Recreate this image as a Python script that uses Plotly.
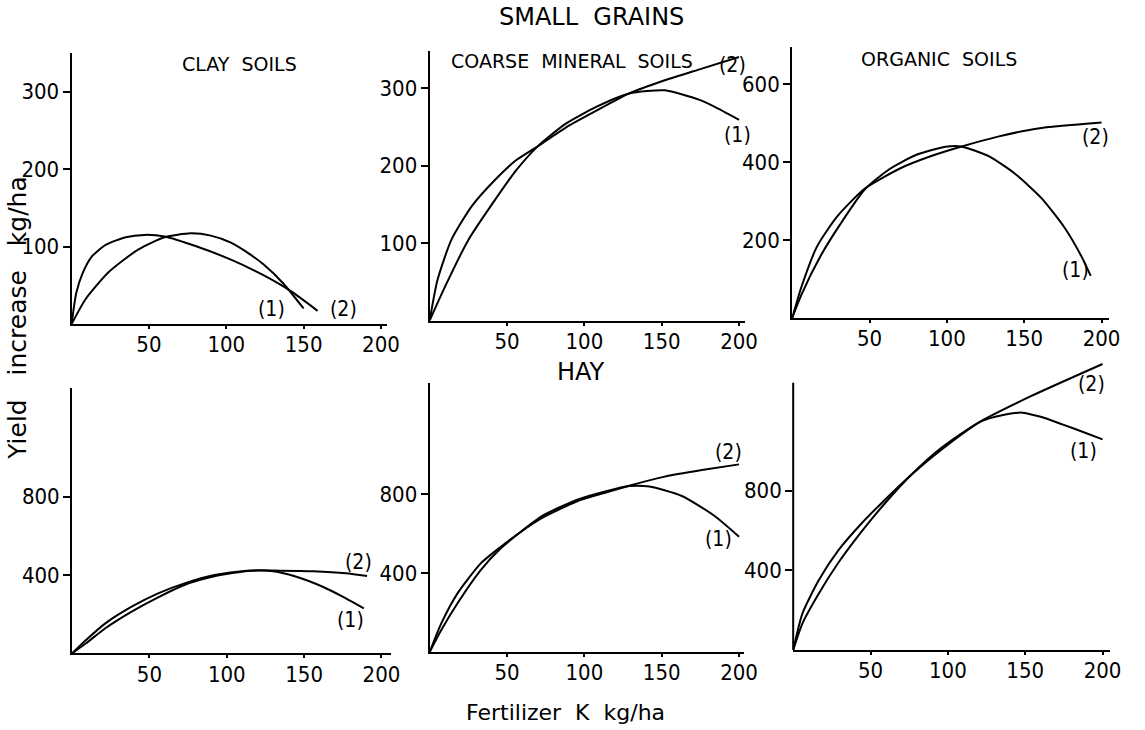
import plotly.graph_objects as go

W, H = 1145, 730

# ---------------- data ----------------
x_tick_vals = [50, 100, 150, 200]
y_ticks_clay_sg = [100, 200, 300]
y_ticks_coarse_sg = [100, 200, 300]
y_ticks_organic_sg = [200, 400, 600]
y_ticks_hay = [400, 800]

# Small grains - clay soils
clay_sg_x1 = [0, 9, 24, 43, 60, 77, 90, 103, 113, 124, 137, 150]
clay_sg_y1 = [0, 32, 67, 96, 112, 117, 114, 105, 93, 77, 52, 20]
clay_sg_x2 = [0, 3, 7, 13, 22, 35, 47, 60, 81, 103, 124, 142, 159]
clay_sg_y2 = [0, 40, 65, 87, 102, 112, 115, 113, 100, 83, 63, 42, 17]

# Small grains - coarse mineral soils
coarse_sg_x1 = [0, 10, 25, 42, 56, 70, 88, 108, 129, 152, 174, 184, 200]
coarse_sg_y1 = [0, 44, 104, 155, 194, 225, 254, 276, 293, 297, 285, 276, 259]
coarse_sg_x2 = [0, 5, 14, 27, 42, 56, 70, 88, 108, 129, 152, 176, 200]
coarse_sg_y2 = [0, 52, 104, 147, 181, 207, 225, 249, 271, 293, 310, 325, 340]

# Small grains - organic soils
organic_sg_x1 = [0, 6, 18.5, 31, 47, 63, 80, 99, 109, 127, 144, 161, 176, 187, 193]
organic_sg_y1 = [0, 60, 160, 240, 330, 382, 418, 439, 440, 415, 370, 308, 232, 158, 108]
organic_sg_x2 = [0, 6, 16, 29, 47, 70, 89, 109, 133, 159, 200]
organic_sg_y2 = [0, 80, 183, 260, 332, 384, 414, 439, 465, 486, 501]

# Hay - clay soils
clay_hay_x1 = [0, 9, 21.5, 38.5, 55.6, 72.6, 92, 115, 130, 145, 162, 177, 188.6]
clay_hay_y1 = [0, 51, 128, 213, 286, 349, 393, 422, 419, 391, 340, 281, 230]
clay_hay_x2 = [0, 9, 21.5, 38.5, 55.6, 72.6, 92, 113, 134, 156, 177, 190.7]
clay_hay_y2 = [0, 68, 153, 238, 306, 357, 400, 422, 422, 419, 409, 395]

# Hay - coarse mineral soils
coarse_hay_x1 = [0, 7.5, 18, 33, 46, 59, 73, 95, 116, 129, 142, 163, 184, 200]
coarse_hay_y1 = [0, 111, 247, 415, 525, 609, 690, 770, 818, 840, 838, 790, 690, 584]
coarse_hay_x2 = [0, 7.5, 18, 33, 46, 59, 73, 95, 116, 129, 152, 176, 200]
coarse_hay_y2 = [0, 145, 297, 449, 533, 609, 680, 762, 812, 842, 888, 921, 950]

# Hay - organic soils
organic_hay_x1 = [0, 6, 16.6, 29.4, 44.3, 59.2, 76.2, 95.4, 121, 135, 148, 160, 174, 187, 200]
organic_hay_y1 = [0, 134, 284, 440, 595, 735, 878, 1012, 1146, 1178, 1191, 1170, 1132, 1095, 1057]
organic_hay_x2 = [0, 6, 16.6, 29.4, 44.3, 59.2, 76.2, 95.4, 121, 153, 200]
organic_hay_y2 = [0, 184, 351, 502, 636, 753, 878, 1003, 1146, 1271, 1435]

# curve label positions (data units): (x1, y1, x2, y2)
label_pos = {
    1: (129, 20, 176, 20),
    2: (199, 239, 196, 330),
    3: (183, 123, 196, 463),
    4: (180, 170, 185, 468),
    5: (187, 572, 193, 1014),
    6: (188, 1000, 193, 1335),
}

panels = {
    1: (clay_sg_x1, clay_sg_y1, clay_sg_x2, clay_sg_y2, y_ticks_clay_sg),
    2: (coarse_sg_x1, coarse_sg_y1, coarse_sg_x2, coarse_sg_y2, y_ticks_coarse_sg),
    3: (organic_sg_x1, organic_sg_y1, organic_sg_x2, organic_sg_y2, y_ticks_organic_sg),
    4: (clay_hay_x1, clay_hay_y1, clay_hay_x2, clay_hay_y2, y_ticks_hay),
    5: (coarse_hay_x1, coarse_hay_y1, coarse_hay_x2, coarse_hay_y2, y_ticks_hay),
    6: (organic_hay_x1, organic_hay_y1, organic_hay_x2, organic_hay_y2, y_ticks_hay),
}

# ---------------- geometry (pixels) ----------------
SX = 1.566  # px per x unit
geom = {
    1: dict(x0=72.5, xmax=204, y0=324.0, sy=0.775, ymax=350, ytop=350),
    2: dict(x0=435.0, xmax=204, y0=320.5, sy=0.775, ymax=348, ytop=348),
    3: dict(x0=802.0, xmax=205, y0=318.0, sy=0.39, ymax=695, ytop=695),
    4: dict(x0=73.0, xmax=206, y0=653.3, sy=0.1958, ymax=1353, ytop=1353),
    5: dict(x0=435.0, xmax=203, y0=652.0, sy=0.1975, ymax=1362, ytop=1362),
    6: dict(x0=803.0, xmax=205, y0=650.0, sy=0.1993, ymax=1450, ytop=1341),
}

TICK_FONT = dict(family="Liberation Sans Narrow, DejaVu Sans Condensed, Arial Narrow, sans-serif",
                 size=22, color="black")
TEXT_FONT = "DejaVu Sans, Verdana, sans-serif"

fig = go.Figure()
layout = dict(
    width=W, height=H, autosize=False, margin=dict(l=0, r=0, t=0, b=0, pad=0),
    paper_bgcolor="white", plot_bgcolor="white", showlegend=False,
)
annotations = []
shapes = []

for i, (x1, y1, x2, y2, yt) in panels.items():
    g = geom[i]
    sfx = "" if i == 1 else str(i)
    xd = [g["x0"] / W, (g["x0"] + g["xmax"] * SX) / W]
    yd = [(H - g["y0"]) / H, (H - (g["y0"] - g["ymax"] * g["sy"])) / H]
    for xs, ys in ((x1, y1), (x2, y2)):
        fig.add_trace(go.Scatter(
            x=xs, y=ys, mode="lines", xaxis="x" + sfx, yaxis="y" + sfx,
            line=dict(color="black", width=2, shape="spline", smoothing=0.6),
            hoverinfo="skip",
        ))
    layout["xaxis" + sfx] = dict(
        domain=xd, range=[0, g["xmax"]], anchor="y" + sfx,
        showgrid=False, zeroline=False, showline=True, linecolor="black", linewidth=2,
        ticks="outside", ticklen=3, tickwidth=1.5, tickcolor="black",
        tickmode="array", tickvals=x_tick_vals, ticktext=[str(v) for v in x_tick_vals],
        tickfont=TICK_FONT, ticklabelstandoff=-3, fixedrange=True,
    )
    layout["yaxis" + sfx] = dict(
        domain=yd, range=[0, g["ymax"]], anchor="x" + sfx,
        showgrid=False, zeroline=False, showline=(g["ytop"] == g["ymax"]),
        linecolor="black", linewidth=2,
        ticks="outside", ticklen=7, tickwidth=1.5, tickcolor="black",
        tickmode="array", tickvals=yt, ticktext=[str(v) for v in yt],
        tickfont=TICK_FONT, ticklabelstandoff=-1, fixedrange=True,
    )
    if g["ytop"] != g["ymax"]:
        shapes.append(dict(type="line", xref="paper", yref="y" + sfx,
                           x0=g["x0"] / W, x1=g["x0"] / W, y0=0, y1=g["ytop"],
                           line=dict(color="black", width=2)))
    lx1, ly1, lx2, ly2 = label_pos[i]
    for lx, ly, txt in ((lx1, ly1, "(1)"), (lx2, ly2, "(2)")):
        annotations.append(dict(
            x=lx, y=ly, xref="x" + sfx, yref="y" + sfx, text=txt, showarrow=False,
            xanchor="center", yanchor="middle",
            font=dict(family=TICK_FONT["family"], size=21, color="black"),
        ))


def ptext(txt, px, py, size, angle=0):
    annotations.append(dict(
        x=px / W, y=1 - py / H, xref="paper", yref="paper", text=txt, showarrow=False,
        xanchor="center", yanchor="middle", textangle=angle,
        font=dict(family=TEXT_FONT, size=size, color="black"),
    ))


ptext("SMALL&nbsp;&nbsp;GRAINS", 599, 17, 24)
ptext("HAY", 588, 372, 24)
ptext("CLAY&nbsp;&nbsp;SOILS", 242, 64, 19)
ptext("COARSE&nbsp;&nbsp;MINERAL&nbsp;&nbsp;SOILS", 579, 61, 19)
ptext("ORGANIC&nbsp;&nbsp;SOILS", 951, 59, 19)
ptext("Yield&nbsp;&nbsp;&nbsp;increase&nbsp;&nbsp;&nbsp;kg/ha", 17, 318, 25, angle=-90)
ptext("Fertilizer&nbsp;&nbsp;K&nbsp;&nbsp;kg/ha", 572, 712, 22)

layout["annotations"] = annotations
layout["shapes"] = shapes
fig.update_layout(**layout)
fig.write_html("out.html", config={"displayModeBar": False})
